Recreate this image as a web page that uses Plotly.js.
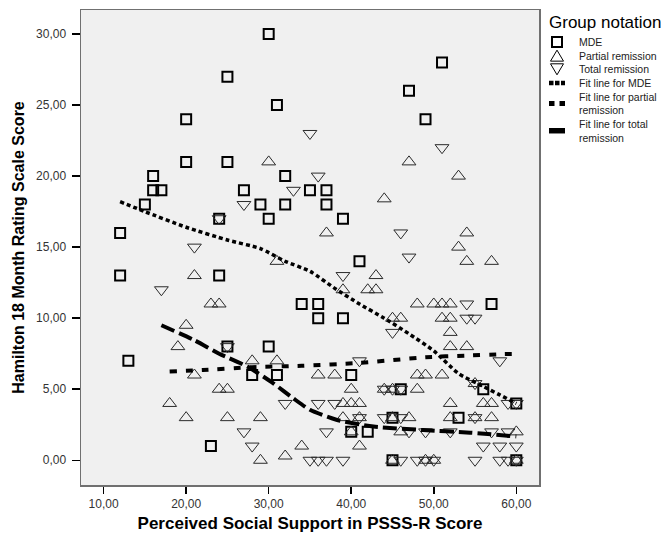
<!DOCTYPE html>
<html>
<head>
<meta charset="utf-8">
<script src="https://cdn.plot.ly/plotly-3.0.1.min.js"></script>
<style>
html,body{margin:0;padding:0;background:#fff;}
#chart{width:670px;height:536px;}
</style>
</head>
<body>
<div id="chart"></div>
<script>
// ---- data ----
const mdeX = [30,25,31,20,20,25,16,16,17,15,12,27,29,30,32,32,24,51,47,49,35,37,37,39,12,24,13,25,30,28,31,23,34,36,36,39,41,57,40,46,45,40,42,45,56,53,60,60];
const mdeY = [30,27,25,24,21,21,20,19,19,18,16,19,18,17,20,18,17,28,26,24,19,19,18,17,13,13,7,8,8,6,6,1,11,11,10,10,14,11,6,5,3,2,2,0,5,3,4,0];

const partialX = [30,47,53,44,37,54,53,31,21,23,
  24,20,19,21,28,31,24,25,18,20,
  25,29,29,32,34,54,57,43,39,42,
  43,48,50,51,52,45,46,51,52,52,
  52,54,36,38,48,49,51,40,44,45,
  48,55,39,40,41,52,56,57,39,41,
  45,47,52,55,57,40,46,60,41,45,
  49,50,60];
const partialY = [21,21,20,18.4,16,16,15,14,13,11,
  11,9.5,8,6,7,7,5,5,4,3,
  3,3,0,0.3,1,14,14,13,12,12,
  12,11,11,11,11,10,10,10,10,9,
  8,8,6,6,6,6,6,5,5,5,
  5,5.4,4,4,4,4,4,4,3,3,
  3,3,3,3,3,2,2,2,1,0,
  0,0,0];

const totalX = [33,27,24,21,35,51,36,46,17,25,
  32,27,28,47,39,45,54,54,55,58,
  41,44,45,46,36,38,44,46,41,37,
  47,49,52,57,59,56,58,60,35,36,
  37,39,46,48,49,50,55,58,59,60,
  59,60,55,55];
const totalY = [19,18,17,15,23,22,20,16,12,8,
  4,2,1,14.3,13,9,11,10,10,7,
  7,5,5,5,4,4,3,3,3,2,
  2,2,2,2,2,1,1,1,0,0,
  0,0,0,0,0,0,0,0,0,0,
  4,4,3,5.4];

const fitMdeX = [12,15,20,25,29,32,35,38,41,44,47,50,53,56,58,60];
const fitMdeY = [18.2,17.5,16.4,15.5,14.9,14.0,13.3,12.1,11.0,10.0,8.9,7.7,6.1,5.2,4.6,4.0];
const fitPartialX = [18,22,28,34,41,49,54,58.5,60];
const fitPartialY = [6.25,6.35,6.55,6.65,6.85,7.25,7.37,7.47,7.48];
const fitTotalX = [17,21,24,27.4,30.6,33,35,38.2,42.7,48.7,54.4,60];
const fitTotalY = [9.5,8.45,7.5,6.6,5.4,4.35,3.55,2.85,2.37,2.13,1.94,1.68];

const xTicks = [10,20,30,40,50,60];
const yTicks = [0,5,10,15,20,25,30];

const legendTitle = 'Group notation';
const seriesNames = ['MDE','Partial remission','Total remission',
  'Fit line for MDE','Fit line for partial remission','Fit line for total remission'];
// legend text lines, wrapped as in the reference
const legendLines = ['MDE','Partial remission','Total remission','Fit line for MDE',
  'Fit line for partial','remission','Fit line for total','remission'];

// ---- styles ----
const triColor = '#2a2a2a';
const fitStyles = [
  {color:'#000', width:3.5, dash:'4px,3px'},
  {color:'#000', width:4, dash:'7px,9px'},
  {color:'#000', width:4, dash:'14px,5px'}
];

// ---- traces ----
const traces = [
  {x: mdeX, y: mdeY, type:'scatter', mode:'markers', name: seriesNames[0],
   marker:{symbol:'square-open', size:10, color:'#000', line:{width:2, color:'#000'}}},
  {x: partialX, y: partialY, type:'scatter', mode:'markers', name: seriesNames[1],
   marker:{symbol:'triangle-up-open', size:12, color:triColor, line:{width:1, color:triColor}}},
  {x: totalX, y: totalY, type:'scatter', mode:'markers', name: seriesNames[2],
   marker:{symbol:'triangle-down-open', size:12, color:triColor, line:{width:1, color:triColor}}},
  {x: fitMdeX, y: fitMdeY, type:'scatter', mode:'lines', name: seriesNames[3],
   line:Object.assign({shape:'spline', smoothing:0.6}, fitStyles[0])},
  {x: fitPartialX, y: fitPartialY, type:'scatter', mode:'lines', name: seriesNames[4],
   line:Object.assign({shape:'spline', smoothing:0.6}, fitStyles[1])},
  {x: fitTotalX, y: fitTotalY, type:'scatter', mode:'lines', name: seriesNames[5],
   line:Object.assign({shape:'spline', smoothing:0.6}, fitStyles[2])}
];

// ---- compact SPSS-like legend drawn with annotations + shapes ----
const M = {l:81, r:131, t:10, b:51};
const PW = 670 - M.l - M.r, PH = 536 - M.t - M.b;
const px = p => (p - M.l) / PW;
const py = p => (M.t + PH - p) / PH;

const titleX = 547, titleY = 22;
const symX = 557, textX = 577;
const legFont = 10.5, lineStep = legFont * 1.3;
const firstLine = 42;
const nLines = legendLines.length;
const lineCentre = k => firstLine + k * lineStep;
const blockCentre = (lineCentre(0) + lineCentre(nLines - 1)) / 2;
const itemY = [lineCentre(0), lineCentre(1), lineCentre(2), lineCentre(3),
  (lineCentre(4) + lineCentre(5)) / 2, (lineCentre(6) + lineCentre(7)) / 2];

const annotations = [
  {xref:'paper', yref:'paper', x: px(titleX), y: py(titleY), xanchor:'left', yanchor:'middle',
   text: legendTitle, showarrow:false, font:{size:17, color:'#000'}},
  {xref:'paper', yref:'paper', x: px(textX), y: py(blockCentre), xanchor:'left', yanchor:'middle',
   align:'left', text: legendLines.join('<br>'), showarrow:false, font:{size:legFont, color:'#222'}}
];

const tri = (cx, cy, up) => {
  const w = 6.5, h = 5.5;
  const pts = up ? [[cx-w, cy+h],[cx+w, cy+h],[cx, cy-h]] : [[cx-w, cy-h],[cx+w, cy-h],[cx, cy+h]];
  return 'M' + pts.map(p => px(p[0]) + ',' + py(p[1])).join('L') + 'Z';
};
const lineSym = (y, w, dash) => ({type:'line', xref:'paper', yref:'paper',
  x0:px(symX-8), x1:px(symX+8), y0:py(y), y1:py(y), line:{color:'#000', width:w, dash:dash}});
const shapes = [
  {type:'rect', xref:'paper', yref:'paper', x0:px(symX-5), x1:px(symX+5), y0:py(itemY[0]+5), y1:py(itemY[0]-5),
   line:{color:'#000', width:2}},
  {type:'path', xref:'paper', yref:'paper', path: tri(symX, itemY[1], true), line:{color:'#000', width:1}},
  {type:'path', xref:'paper', yref:'paper', path: tri(symX, itemY[2], false), line:{color:'#000', width:1}},
  lineSym(itemY[3], 4.5, '4.5px,1.5px'),
  lineSym(itemY[4], 5, '5.5px,5px'),
  lineSym(itemY[5], 5.5, 'solid')
];

const layout = {
  width: 670, height: 536,
  margin: M,
  paper_bgcolor:'#fff',
  plot_bgcolor:'#F0F0F0',
  separators: ',.',
  font: {family:'"Liberation Sans", Arial, sans-serif', size:11, color:'#222'},
  showlegend: false,
  annotations: annotations,
  shapes: shapes,
  xaxis: {
    range:[7.26, 62.75], tickvals: xTicks, tickformat:'.2f',
    ticks:'outside', ticklen:7, tickwidth:1.5, tickcolor:'#000',
    showgrid:false, zeroline:false,
    showline:true, mirror:true, linecolor:'#707070', linewidth:1.5,
    tickfont:{size:12, color:'#333'},
    title:{text:'<b>Perceived Social Support in PSSS-R Score</b>', font:{size:17, color:'#000'}, standoff:7}
  },
  yaxis: {
    range:[-1.74, 31.69], tickvals: yTicks, tickformat:'.2f',
    ticks:'outside', ticklen:8, tickwidth:1.5, tickcolor:'#000',
    showgrid:false, zeroline:false,
    showline:true, mirror:true, linecolor:'#707070', linewidth:1.5,
    tickfont:{size:12, color:'#333'}, ticklabelstandoff:3,
    title:{text:'<b>Hamilton 18 Month Rating Scale Score</b>', font:{size:16, color:'#000'}, standoff:7}
  }
};

Plotly.newPlot('chart', traces, layout, {displayModeBar:false, staticPlot:true});
</script>
</body>
</html>
